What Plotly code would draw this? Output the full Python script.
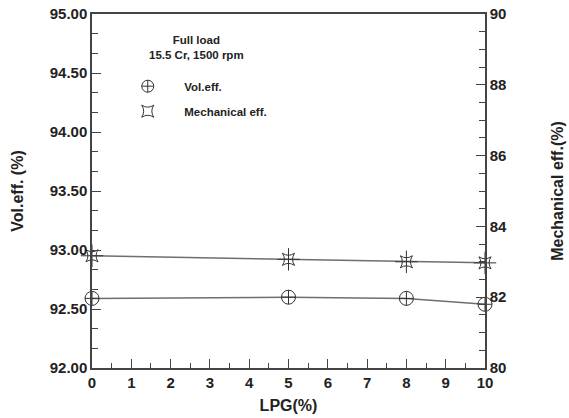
import plotly.graph_objects as go

lpg = [0, 5, 8, 10]
vol_eff = [92.59, 92.60, 92.59, 92.54]
mech_eff = [83.17, 83.07, 83.00, 82.97]

x_ticks = list(range(0, 11))
left_ticks = [92.0, 92.5, 93.0, 93.5, 94.0, 94.5, 95.0]
left_labels = ["92.00", "92.50", "93.00", "93.50", "94.00", "94.50", "95.00"]
right_ticks = [80, 82, 84, 86, 88, 90]

FONT = "Liberation Sans, Arial, sans-serif"
LINE = "#6e6e6e"
AX = "#444444"
MK = "#333333"

fig = go.Figure()
# data traces
fig.add_trace(go.Scatter(
    x=lpg, y=vol_eff, mode="lines+markers", showlegend=False,
    line=dict(color=LINE, width=1.5),
    marker=dict(symbol="circle-cross-open", size=14, color=MK, line=dict(width=1)),
    cliponaxis=False))
fig.add_trace(go.Scatter(
    x=lpg, y=mech_eff, mode="lines+markers", yaxis="y2", showlegend=False,
    line=dict(color=LINE, width=1.5),
    marker=dict(symbol="star-square-open", size=11, color=MK, line=dict(width=1)),
    cliponaxis=False))
fig.add_trace(go.Scatter(
    x=lpg, y=mech_eff, mode="markers", yaxis="y2", showlegend=False,
    marker=dict(symbol="cross-thin-open", size=16, color=MK, line=dict(width=1, color=MK)),
    cliponaxis=False))
# legend-only entries (markers only)
fig.add_trace(go.Scatter(
    x=[None], y=[None], mode="markers", name="Vol.eff.", legendgroup="a",
    marker=dict(symbol="circle-cross-open", size=12, color=MK, line=dict(width=1))))
fig.add_trace(go.Scatter(
    x=[None], y=[None], mode="markers", name="Mechanical eff.", legendgroup="b",
    marker=dict(symbol="star-square-open", size=11, color=MK, line=dict(width=1))))

fig.update_layout(
    width=569, height=418,
    margin=dict(l=92, r=84, t=14, b=50, autoexpand=False),
    paper_bgcolor="white", plot_bgcolor="white",
    font=dict(family=FONT, color="#222222", size=15),
    showlegend=True,
    legend=dict(x=0.049, y=0.837, xanchor="left", yanchor="top", itemwidth=63,
                font=dict(family=FONT, size=11.5, color="#222222", weight="bold"),
                bgcolor="rgba(0,0,0,0)", tracegroupgap=6, traceorder="grouped"),
    xaxis=dict(range=[0, 10], tickvals=x_ticks, ticks="inside", ticklen=9, tickwidth=1.2,
               tickcolor=AX, showline=True, linecolor=AX, linewidth=1.5, mirror=True,
               showgrid=False, zeroline=False, automargin=False,
               minor=dict(dtick=0.5, ticks="inside", ticklen=5, tickcolor=AX),
               tickfont=dict(size=15, weight="bold"),
               title=dict(text="LPG(%)", font=dict(size=16, weight="bold"), standoff=10)),
    yaxis=dict(range=[92, 95], tickvals=left_ticks, ticktext=left_labels, ticks="inside",
               ticklen=9, tickwidth=1.2, tickcolor=AX, showline=True, linecolor=AX,
               linewidth=1.5, showgrid=False, zeroline=False, automargin=False,
               minor=dict(tickvals=[92 + i / 6 for i in range(19)], ticks="inside",
                          ticklen=6, tickcolor=AX),
               tickfont=dict(size=15, weight="bold"),
               title=dict(text="Vol.eff. (%)", font=dict(size=16, weight="bold"), standoff=22)),
    yaxis2=dict(range=[80, 90], tickvals=right_ticks, overlaying="y", side="right",
                ticks="inside", ticklen=9, tickwidth=1.2, tickcolor=AX, showline=True,
                linecolor=AX, linewidth=1.5, showgrid=False, zeroline=False, automargin=False,
                minor=dict(dtick=0.5, ticks="inside", ticklen=6, tickcolor=AX),
                tickfont=dict(size=15, weight="bold"),
                title=dict(text="Mechanical eff.(%)", font=dict(size=16, weight="bold"),
                           standoff=46)),
)

fig.add_annotation(x=0.265, y=0.948, xref="paper", yref="paper", showarrow=False,
                   xanchor="center", yanchor="top",
                   text="<b>Full load</b><br><b>15.5 Cr, 1500 rpm</b>",
                   font=dict(size=11.5, family=FONT, color="#222222"), align="center")

fig.write_html("out.html")
